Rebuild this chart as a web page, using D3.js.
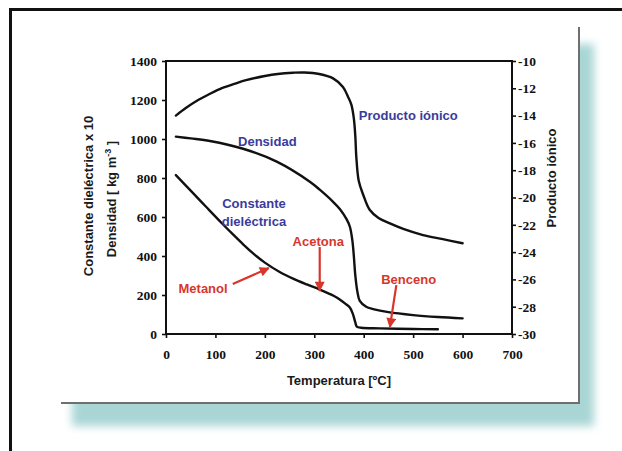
<!DOCTYPE html>
<html>
<head>
<meta charset="utf-8">
<script src="https://cdn.jsdelivr.net/npm/d3@7"></script>
<style>
  body { margin: 0; background: #fff; }
  svg { display: block; }
  .title { font-family: "Liberation Sans", Arial, sans-serif; font-weight: bold; font-size: 13px; fill: #1a1a1a; }
  .note { font-family: "Liberation Sans", Arial, sans-serif; font-weight: bold; font-size: 13px; }
</style>
</head>
<body>
<script>
// temperatures [ºC] and values
var ionicT   = [20, 40, 65, 90, 113, 140, 162, 200, 226, 257, 280, 310, 338, 358, 368, 375, 380, 383, 385, 390, 399, 412, 430, 453, 480, 520, 560, 600];
var ionic    = [-14.0, -13.45, -12.86, -12.38, -11.99, -11.65, -11.4, -11.1, -10.95, -10.86, -10.84, -10.95, -11.27, -11.9, -12.6, -13.2, -14.2, -15.5, -17.0, -18.8, -19.8, -20.9, -21.5, -21.9, -22.3, -22.75, -23.05, -23.35];

var densT    = [20, 50, 89, 156, 224, 291, 311, 338, 352, 365, 372, 377, 380, 383, 387, 392, 405, 419, 450, 500, 550, 600];
var density  = [1012, 1003, 990, 950, 884, 781, 740, 678, 640, 590, 550, 480, 400, 300, 220, 170, 140, 128, 112, 97, 87, 80];

var dielT    = [20, 48, 80, 113, 135, 156, 178, 200, 230, 257, 285, 311, 340, 352, 362, 372, 378, 383, 386, 395, 432, 500, 550];
var dielec   = [815, 740, 655, 568, 512, 460, 410, 366, 318, 284, 254, 228, 195, 176, 157, 136, 103, 60, 38, 32, 29, 26, 24];

var xTicks   = [0, 100, 200, 300, 400, 500, 600, 700];
var yTicks   = [0, 200, 400, 600, 800, 1000, 1200, 1400];
var y2Ticks  = [-10, -12, -14, -16, -18, -20, -22, -24, -26, -28, -30];

// curve names, in data units of the left axis
var curveNames = [
  {text: "Producto iónico", t: 390, v: 1123, anchor: "start"},
  {text: "Densidad", t: 205, v: 990, anchor: "middle"},
  {text: "Constante", t: 178, v: 672, anchor: "middle"},
  {text: "dieléctrica", t: 178, v: 576, anchor: "middle"}
];
var solvents = [
  {text: "Metanol", t: 75, v: 236, anchor: "middle"},
  {text: "Acetona", t: 308, v: 473, anchor: "middle"},
  {text: "Benceno", t: 491, v: 282, anchor: "middle"}
];
var arrows = [
  {t0: 135, v0: 256, t1: 208, v1: 338},
  {t0: 311, v0: 446, t1: 311, v1: 222},
  {t0: 466, v0: 251, t1: 453, v1: 36}
];

var W = 622, H = 451;
var red = "#d8362b", blue = "#3b3b9c";

var svg = d3.select("body").append("svg")
    .attr("width", W)
    .attr("height", H);

var defs = svg.append("defs");
defs.append("filter").attr("id", "blur")
    .attr("x", "-10%").attr("y", "-10%").attr("width", "120%").attr("height", "120%")
  .append("feGaussianBlur").attr("stdDeviation", 4);
defs.append("marker").attr("id", "head")
    .attr("viewBox", "0 0 10 10").attr("refX", 9).attr("refY", 5)
    .attr("markerWidth", 5).attr("markerHeight", 4.5)
    .attr("markerUnits", "strokeWidth")
    .attr("orient", "auto")
  .append("path").attr("d", "M0,0 L10,5 L0,10 Z").attr("fill", red);

// page frame
svg.append("path")
    .attr("d", "M10.5," + H + " L10.5,9.5 L" + W + ",9.5")
    .attr("fill", "none").attr("stroke", "#111").attr("stroke-width", 3);

// panel with its teal shadow
svg.append("rect")
    .attr("x", 72).attr("y", 44).attr("width", 522).attr("height", 382)
    .attr("fill", "#a9d6d5").attr("filter", "url(#blur)");
svg.append("rect")
    .attr("x", 61).attr("y", 27).attr("width", 518).attr("height", 376)
    .attr("fill", "#fff");
svg.append("path")
    .attr("d", "M579,27 L579,403 L61,403")
    .attr("fill", "none").attr("stroke", "#6f6f6f").attr("stroke-width", 2);

var x = d3.scaleLinear().domain([0, 700]).range([166, 512]);
var y = d3.scaleLinear().domain([0, 1400]).range([334, 61]);
var y2 = d3.scaleLinear().domain([-30, -10]).range([334, 61]);

// axes
var fmt = function(d) { return String(d); };
var xAxis = d3.axisBottom(x).tickValues(xTicks).tickSize(4).tickPadding(11).tickFormat(fmt);
var yAxis = d3.axisLeft(y).tickValues(yTicks).tickSize(4).tickPadding(5).tickFormat(fmt);
var y2Axis = d3.axisRight(y2).tickValues(y2Ticks).tickSize(4).tickPadding(2).tickFormat(fmt);

svg.append("g").attr("transform", "translate(0,334)").call(xAxis);
svg.append("g").attr("transform", "translate(166,0)").call(yAxis);
svg.append("g").attr("transform", "translate(512,0)").call(y2Axis);
svg.selectAll(".domain").remove();
svg.selectAll(".tick line").attr("stroke", "#111").attr("stroke-width", 1.6);
svg.selectAll(".tick text")
    .style("font-family", "'Liberation Serif', 'Times New Roman', serif")
    .style("font-weight", "bold")
    .style("font-size", "13.5px")
    .attr("fill", "#111");

svg.append("rect")
    .attr("x", x(0)).attr("y", y(1400))
    .attr("width", x(700) - x(0)).attr("height", y(0) - y(1400))
    .attr("fill", "none").attr("stroke", "#111").attr("stroke-width", 2);

// curves
var curve = d3.curveCatmullRom.alpha(0.5);
var lineL = d3.line().curve(curve)
    .x(function(d) { return x(d[0]); })
    .y(function(d) { return y(d[1]); });
var lineR = d3.line().curve(curve)
    .x(function(d) { return x(d[0]); })
    .y(function(d) { return y2(d[1]); });

var g = svg.append("g").attr("fill", "none").attr("stroke", "#111")
    .attr("stroke-width", 2.4).attr("stroke-linecap", "round");
g.append("path").attr("d", lineR(d3.zip(ionicT, ionic)));
g.append("path").attr("d", lineL(d3.zip(densT, density)));
g.append("path").attr("d", lineL(d3.zip(dielT, dielec)));

// annotations
svg.selectAll(".curve-name").data(curveNames).enter().append("text")
    .attr("class", "note")
    .attr("x", function(d) { return x(d.t); })
    .attr("y", function(d) { return y(d.v); })
    .attr("dy", "0.35em")
    .attr("text-anchor", function(d) { return d.anchor; })
    .attr("fill", blue)
    .text(function(d) { return d.text; });

svg.selectAll(".solvent").data(solvents).enter().append("text")
    .attr("class", "note")
    .attr("x", function(d) { return x(d.t); })
    .attr("y", function(d) { return y(d.v); })
    .attr("dy", "0.35em")
    .attr("text-anchor", function(d) { return d.anchor; })
    .attr("fill", red)
    .text(function(d) { return d.text; });

svg.selectAll(".arrow").data(arrows).enter().append("line")
    .attr("x1", function(d) { return x(d.t0); })
    .attr("y1", function(d) { return y(d.v0); })
    .attr("x2", function(d) { return x(d.t1); })
    .attr("y2", function(d) { return y(d.v1); })
    .attr("stroke", red).attr("stroke-width", 2.2)
    .attr("marker-end", "url(#head)");

// axis titles
svg.append("text").attr("class", "title")
    .attr("x", x(350)).attr("y", 385)
    .attr("text-anchor", "middle")
    .text("Temperatura [ºC]");

svg.append("text").attr("class", "title")
    .attr("transform", "translate(93,196) rotate(-90)")
    .attr("text-anchor", "middle")
    .text("Constante dieléctrica x 10");

var t2 = svg.append("text").attr("class", "title")
    .attr("transform", "translate(116,199) rotate(-90)")
    .attr("text-anchor", "middle");
t2.append("tspan").text("Densidad  [ kg m");
t2.append("tspan").attr("dy", -5).attr("font-size", "9px").text("-3");
t2.append("tspan").attr("dy", 5).text(" ]");

svg.append("text").attr("class", "title")
    .attr("transform", "translate(556,178) rotate(-90)")
    .attr("text-anchor", "middle")
    .text("Producto iónico");
</script>
</body>
</html>
